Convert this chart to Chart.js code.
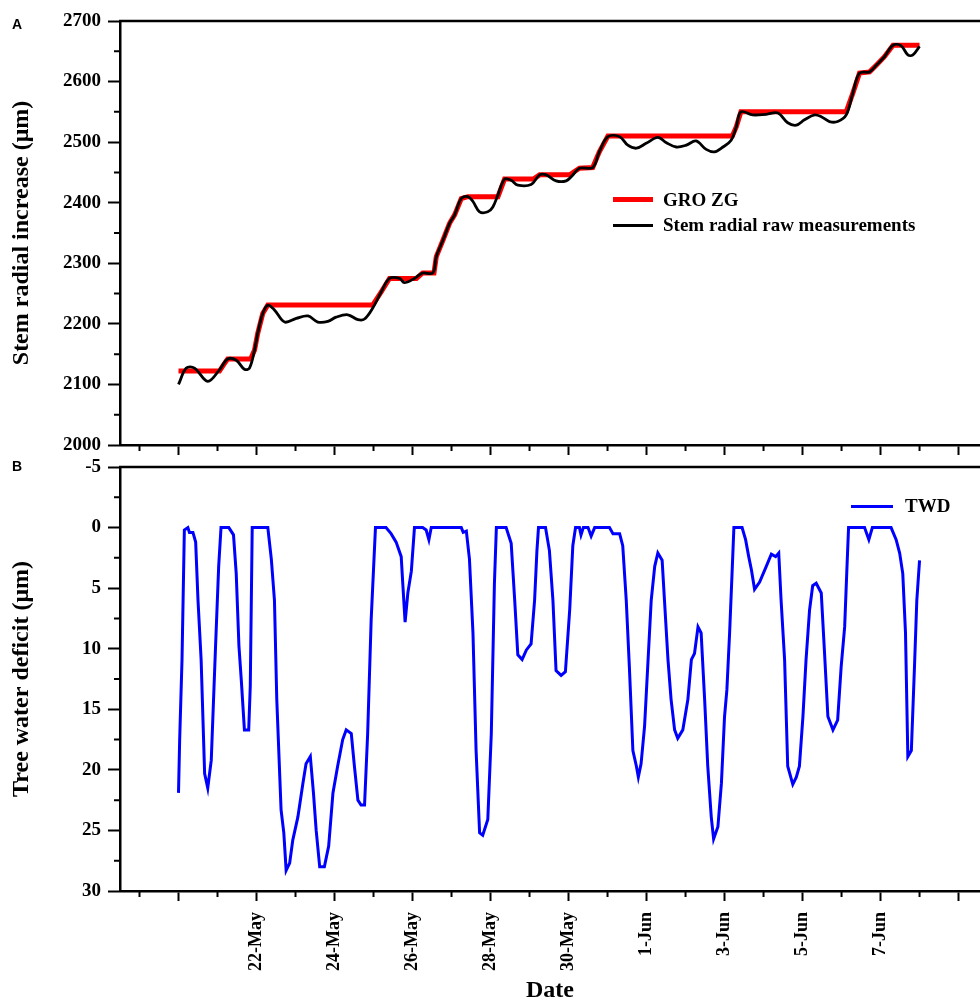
<!DOCTYPE html>
<html>
<head>
<meta charset="utf-8">
<script src="https://cdn.jsdelivr.net/npm/chart.js@4.4.1/dist/chart.umd.min.js"></script>
<style>
  body { margin: 0; background: #fff; }
  #wrap { position: relative; width: 980px; height: 1003px; overflow: hidden; font-family: "Liberation Serif", serif; }
  canvas { position: absolute; left: 0; }
  .panel { position: absolute; font: bold 14px "Liberation Sans", Arial, sans-serif; }
  .lg { position: absolute; font: bold 19px "Liberation Serif", serif; line-height: 22px; white-space: nowrap; }
  .sw { position: absolute; }
</style>
</head>
<body>
<div id="wrap">
  <canvas id="topChart" width="980" height="465" style="top:0"></canvas>
  <canvas id="botChart" width="980" height="558" style="top:445px"></canvas>
  <div class="panel" style="left:12px;top:16px">A</div>
  <div class="panel" style="left:12px;top:458px">B</div>
  <div class="sw" style="left:613px;top:197px;width:40px;height:5px;background:#ff0000"></div>
  <div class="lg" style="left:663px;top:189px">GRO ZG</div>
  <div class="sw" style="left:613px;top:224px;width:40px;height:3px;background:#000"></div>
  <div class="lg" style="left:663px;top:214px">Stem radial raw measurements</div>
  <div class="sw" style="left:851px;top:505px;width:42px;height:3px;background:#0000ff"></div>
  <div class="lg" style="left:905px;top:495px">TWD</div>
</div>
<script>
// x values are days counted from 1 May (1-Jun = 32)
var rawDays = [
  20.0, 20.2, 20.41, 20.75, 21.05, 21.26, 21.48, 21.69, 21.82, 21.95,
  22.03, 22.16, 22.29, 22.46, 22.72, 23.02, 23.32, 23.57, 23.83, 24.04,
  24.34, 24.6, 24.77, 24.98, 25.2, 25.41, 25.67, 25.79, 26.05, 26.26,
  26.52, 26.61, 26.78, 26.95, 27.08, 27.25, 27.42, 27.55, 27.72, 27.93,
  28.06, 28.19, 28.36, 28.53, 28.7, 29.04, 29.26, 29.43, 29.68, 29.94,
  30.1, 30.28, 30.62, 30.79, 31.01, 31.31, 31.52, 31.74, 31.99, 32.29,
  32.51, 32.76, 33.02, 33.27, 33.53, 33.74, 33.96, 34.17, 34.3, 34.42,
  34.72, 35.07, 35.37, 35.62, 35.84, 36.05, 36.31, 36.48, 36.69, 36.9,
  37.12, 37.29, 37.46, 37.72, 37.89, 38.1, 38.32, 38.53, 38.7, 38.83,
  39.0
];
var rawValues = [
  2100, 2127, 2127, 2105, 2124, 2142, 2140, 2125, 2127, 2157,
  2184, 2217, 2231, 2223, 2203, 2209, 2213, 2203, 2204, 2211,
  2215, 2207, 2208, 2226, 2253, 2275, 2275, 2268, 2275, 2284,
  2284, 2311, 2338, 2366, 2380, 2407, 2410, 2402, 2385, 2385,
  2393, 2413, 2439, 2437, 2429, 2430, 2446, 2446, 2436, 2436,
  2445, 2457, 2458, 2484, 2509, 2509, 2495, 2490, 2498, 2508,
  2499, 2492, 2495, 2502, 2488, 2484, 2492, 2503, 2525, 2550,
  2545, 2546, 2548, 2532, 2528, 2537, 2545, 2542, 2534, 2534,
  2545, 2581, 2614, 2616, 2627, 2641, 2660, 2659, 2644, 2644,
  2658
];

var groDays = [
  20.0, 21.05, 21.15, 21.26, 21.85, 21.95, 22.03, 22.16, 22.29, 24.98,
  25.2, 25.41, 26.1, 26.26, 26.55, 26.61, 26.78, 26.95, 27.08, 27.25,
  27.42, 28.19, 28.36, 29.1, 29.26, 30.03, 30.28, 30.62, 30.79, 31.01,
  34.2, 34.3, 34.42, 37.12, 37.29, 37.46, 37.72, 37.89, 38.1, 38.32,
  39.0
];
var groValues = [
  2122, 2122, 2132, 2142, 2142, 2157, 2184, 2217, 2231, 2231,
  2253, 2275, 2275, 2284, 2284, 2311, 2338, 2366, 2380, 2407,
  2410, 2410, 2439, 2439, 2446, 2446, 2457, 2458, 2484, 2510,
  2510, 2525, 2550, 2550, 2581, 2614, 2616, 2627, 2641, 2660,
  2660
];

var twdDays = [
  20.0, 20.03, 20.09, 20.15, 20.24, 20.28, 20.37, 20.44, 20.5, 20.58,
  20.67, 20.75, 20.84, 20.95, 21.03, 21.09, 21.29, 21.41, 21.48, 21.55,
  21.61, 21.69, 21.8, 21.84, 21.89, 22.29, 22.38, 22.46, 22.52, 22.63,
  22.7, 22.76, 22.85, 22.93, 23.06, 23.19, 23.27, 23.38, 23.46, 23.53,
  23.62, 23.74, 23.85, 23.96, 24.08, 24.21, 24.3, 24.43, 24.51, 24.6,
  24.68, 24.77, 24.85, 24.94, 25.05, 25.32, 25.45, 25.58, 25.71, 25.75,
  25.81, 25.88, 25.97, 26.05, 26.26, 26.35, 26.42, 26.48, 27.25, 27.3,
  27.38, 27.46, 27.55, 27.63, 27.72, 27.8, 27.93, 28.02, 28.1, 28.15,
  28.4, 28.53, 28.62, 28.7, 28.81, 28.92, 29.04, 29.13, 29.19, 29.23,
  29.41, 29.51, 29.6, 29.68, 29.81, 29.92, 30.03, 30.11, 30.18, 30.28,
  30.32, 30.38, 30.5, 30.58, 30.67, 31.05, 31.14, 31.31, 31.39, 31.48,
  31.56, 31.65, 31.74, 31.79, 31.86, 31.95, 32.03, 32.12, 32.21, 32.29,
  32.4, 32.46, 32.55, 32.63, 32.72, 32.8, 32.93, 33.06, 33.15, 33.23,
  33.32, 33.4, 33.49, 33.57, 33.66, 33.72, 33.83, 33.92, 34.0, 34.06,
  34.13, 34.2, 34.24, 34.45, 34.54, 34.62, 34.69, 34.77, 34.9, 35.07,
  35.2, 35.31, 35.39, 35.45, 35.54, 35.62, 35.75, 35.84, 35.92, 36.01,
  36.09, 36.18, 36.26, 36.35, 36.48, 36.56, 36.65, 36.78, 36.9, 36.99,
  37.08, 37.14, 37.18, 37.59, 37.7, 37.79, 38.27, 38.4, 38.49, 38.57,
  38.64, 38.7, 38.79, 38.87, 38.93, 39.0
];
var twdValues = [
  21.9, 17.5, 10.9, 0.2, 0.0, 0.4, 0.4, 1.2, 6.0, 10.9,
  20.3, 21.5, 19.2, 9.8, 3.2, 0.0, 0.0, 0.6, 3.8, 9.8,
  12.6, 16.7, 16.7, 13.1, 0.0, 0.0, 2.6, 6.0, 14.2, 23.3,
  25.2, 28.3, 27.7, 25.8, 23.9, 21.1, 19.5, 18.9, 21.9, 25.0,
  28.0, 28.0, 26.3, 21.9, 19.7, 17.5, 16.7, 17.0, 19.7, 22.5,
  22.9, 22.9, 17.0, 7.6, 0.0, 0.0, 0.5, 1.2, 2.4, 4.6,
  7.8, 5.4, 3.6, 0.0, 0.0, 0.2, 1.0, 0.0, 0.0, 0.4,
  0.3, 2.6, 8.7, 18.4, 25.2, 25.4, 24.1, 17.0, 4.6, 0.0,
  0.0, 1.3, 6.0, 10.5, 10.9, 10.1, 9.6, 6.0, 1.9, 0.0,
  0.0, 1.9, 6.0, 11.8, 12.2, 11.9, 6.8, 1.5, 0.0, 0.0,
  0.6, 0.0, 0.0, 0.7, 0.0, 0.0, 0.5, 0.5, 1.5, 6.0,
  11.5, 18.4, 19.7, 20.6, 19.5, 16.4, 11.5, 6.0, 3.2, 2.1,
  2.7, 6.0, 10.9, 14.2, 16.7, 17.4, 16.7, 14.2, 10.9, 10.4,
  8.2, 8.7, 14.2, 19.7, 23.9, 25.7, 24.7, 21.1, 15.6, 13.4,
  8.7, 3.2, 0.0, 0.0, 1.0, 2.4, 3.5, 5.1, 4.5, 3.2,
  2.2, 2.4, 2.1, 6.0, 10.9, 19.7, 21.2, 20.6, 19.7, 15.6,
  10.9, 6.8, 4.8, 4.6, 5.4, 10.1, 15.6, 16.7, 15.9, 11.5,
  8.2, 3.2, 0.0, 0.0, 1.0, 0.0, 0.0, 1.0, 2.1, 3.8,
  8.7, 18.9, 18.4, 11.5, 6.0, 2.7
];

// axis ticks
var xMajorDays = [20, 22, 24, 26, 28, 30, 32, 34, 36, 38, 40];
var xLabels = ['', '22-May', '24-May', '26-May', '28-May', '30-May', '1-Jun', '3-Jun', '5-Jun', '7-Jun', ''];
var xMinorDays = [19, 21, 23, 25, 27, 29, 31, 33, 35, 37, 39];
var topMinor = [2050, 2150, 2250, 2350, 2450, 2550, 2650];
var botMinor = [-2.5, 2.5, 7.5, 12.5, 17.5, 22.5, 27.5];

function pts(xs, ys) {
  return xs.map(function (d, i) { return { x: d, y: ys[i] }; });
}

var serif = 'Liberation Serif';

// draws the top frame line and the minor ticks
var frameTicks = {
  id: 'frameTicks',
  afterDraw: function (chart, args, opts) {
    var ctx = chart.ctx, a = chart.chartArea;
    var xs = chart.scales.x, ys = chart.scales.y;
    ctx.save();
    ctx.strokeStyle = '#000';
    ctx.lineWidth = 2.5;
    ctx.beginPath();
    ctx.moveTo(a.left - 1, a.top);
    ctx.lineTo(a.right, a.top);
    ctx.stroke();
    ctx.lineWidth = 2;
    ctx.beginPath();
    opts.xMinor.forEach(function (v) {
      var px = xs.getPixelForValue(v);
      ctx.moveTo(px, a.bottom);
      ctx.lineTo(px, a.bottom + 6);
    });
    opts.yMinor.forEach(function (v) {
      var py = ys.getPixelForValue(v);
      ctx.moveTo(a.left, py);
      ctx.lineTo(a.left - 6, py);
    });
    ctx.stroke();
    ctx.restore();
  }
};

function xScale(showLabels, height) {
  return {
    type: 'linear',
    min: 18.5,
    max: 40.55,
    afterBuildTicks: function (s) { s.ticks = xMajorDays.map(function (v) { return { value: v }; }); },
    afterFit: function (s) {
      s.height = height;
      s.paddingLeft = 0;
      s.paddingRight = 0;
    },
    grid: { drawOnChartArea: false, drawTicks: true, tickLength: 10, tickWidth: 2, tickColor: '#000' },
    border: { display: true, color: '#000', width: 2.5 },
    ticks: {
      autoSkip: false,
      minRotation: 90,
      maxRotation: 90,
      padding: 11,
      color: '#000',
      font: { family: serif, size: 18, weight: 'bold' },
      callback: function (v, i) { return showLabels ? xLabels[i] : ''; }
    },
    title: {
      display: showLabels,
      text: 'Date',
      color: '#000',
      font: { family: serif, size: 24, weight: 'bold', lineHeight: 1 },
      padding: { top: 0, bottom: 0 }
    }
  };
}

function yScale(min, max, step, reverse, label) {
  return {
    min: min,
    max: max,
    reverse: reverse,
    afterFit: function (s) { s.width = 120; },
    grid: { drawOnChartArea: false, drawTicks: true, tickLength: 12, tickWidth: 2, tickColor: '#000' },
    border: { display: true, color: '#000', width: 2.5 },
    ticks: {
      stepSize: step,
      padding: 7,
      color: '#000',
      font: { family: serif, size: 19, weight: 'bold' },
      callback: function (v) { return String(v); }
    },
    title: {
      display: true,
      text: label,
      color: '#000',
      font: { family: serif, size: 24, weight: 'bold', lineHeight: 1 },
      padding: { top: 10, bottom: 0 }
    }
  };
}

new Chart(document.getElementById('topChart'), {
  type: 'line',
  data: {
    datasets: [
      {
        label: 'Stem radial raw measurements',
        data: pts(rawDays, rawValues),
        borderColor: '#000',
        borderWidth: 2.8,
        pointRadius: 0,
        tension: 0.35,
        order: 1
      },
      {
        label: 'GRO ZG',
        data: pts(groDays, groValues),
        borderColor: '#ff0000',
        borderWidth: 5,
        pointRadius: 0,
        tension: 0,
        order: 2
      }
    ]
  },
  options: {
    responsive: false,
    animation: false,
    devicePixelRatio: 1,
    layout: { padding: { top: 21, right: 0, bottom: 0, left: 0 } },
    plugins: {
      legend: { display: false },
      tooltip: { enabled: false },
      frameTicks: { xMinor: xMinorDays, yMinor: topMinor }
    },
    scales: {
      x: xScale(false, 20),
      y: yScale(2000, 2700, 100, false, 'Stem radial increase (μm)')
    }
  },
  plugins: [frameTicks]
});

new Chart(document.getElementById('botChart'), {
  type: 'line',
  data: {
    datasets: [
      {
        label: 'TWD',
        data: pts(twdDays, twdValues),
        borderColor: '#0000ff',
        borderWidth: 3,
        pointRadius: 0,
        tension: 0
      }
    ]
  },
  options: {
    responsive: false,
    animation: false,
    devicePixelRatio: 1,
    layout: { padding: { top: 22, right: 0, bottom: 0, left: 0 } },
    plugins: {
      legend: { display: false },
      tooltip: { enabled: false },
      frameTicks: { xMinor: xMinorDays, yMinor: botMinor }
    },
    scales: {
      x: xScale(true, 112),
      y: yScale(-5, 30, 5, true, 'Tree water deficit (μm)')
    }
  },
  plugins: [frameTicks]
});
</script>
</body>
</html>
